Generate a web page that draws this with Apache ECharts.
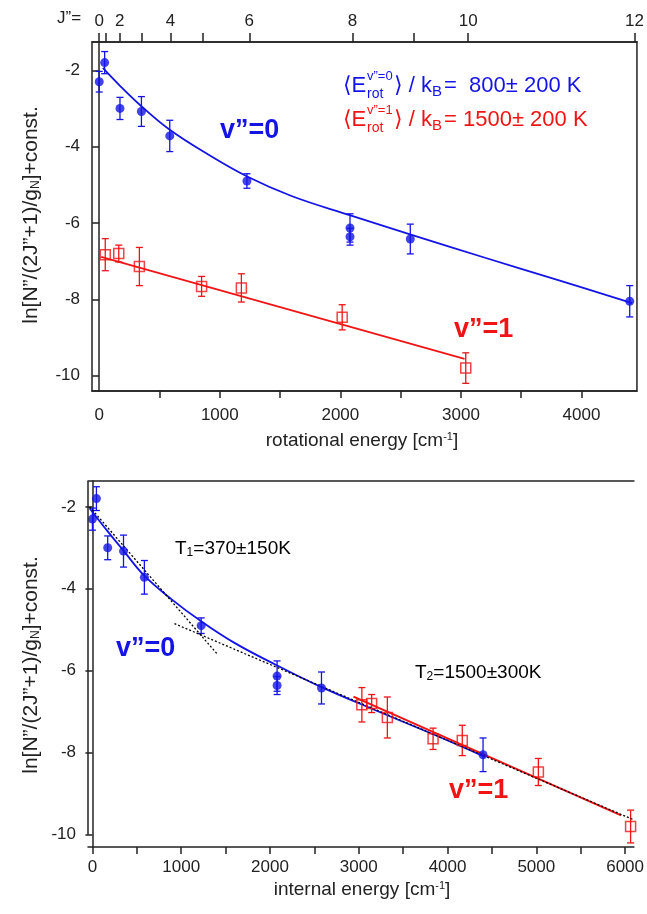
<!DOCTYPE html>
<html><head><meta charset="utf-8">
<script src="https://cdn.jsdelivr.net/npm/echarts@6/dist/echarts.min.js"></script>
<style>html,body{margin:0;padding:0;background:#fff}#c{width:647px;height:914px}</style>
</head><body><div id="c"></div><script>
const BLUE = '#1414e6', RED = '#f01414', INK = '#222';
const FONT = '"Liberation Sans", Arial, "DejaVu Sans", sans-serif';

// ---- data ----
const v0Energy = [0, 45, 172, 350, 585, 1225, 2080, 2080, 2580, 4400];
const v0Value  = [-2.3, -1.8, -3.0, -3.08, -3.72, -4.9, -6.13, -6.36, -6.42, -8.05];
const v0Err    = [0.27, 0.29, 0.29, 0.39, 0.41, 0.19, 0.37, 0.22, 0.39, 0.41];
const v1RotEnergy = [50, 162, 333, 849, 1179, 2015, 3040];
const v1IntEnergy = [3035, 3145, 3322, 3837, 4166, 5023, 6062];
const v1Value  = [-6.83, -6.8, -7.14, -7.66, -7.7, -8.47, -9.8];
const v1Err    = [0.42, 0.22, 0.5, 0.26, 0.37, 0.33, 0.4];

const fitV0TopE = [30, 176, 352, 585, 900, 1231, 1600, 2083, 2578, 3200, 3800, 4420];
const fitV0TopV = [-1.94, -2.42, -2.95, -3.56, -4.2, -4.79, -5.3, -5.8, -6.3, -6.91, -7.49, -8.1];
const fitV1TopE = [16, 3030];
const fitV1TopV = [-6.89, -9.56];
const fitV0BotE = [-30, 172, 350, 584, 900, 1209, 1600, 2080, 2580, 3228, 3837, 4420];
const fitV0BotV = [-2.04, -2.6, -3.07, -3.68, -4.27, -4.77, -5.32, -5.87, -6.4, -7.0, -7.55, -8.1];
const fitV1BotE = [2940, 5955];
const fitV1BotV = [-6.63, -9.53];
const t1LineE = [-31, 1413];
const t1LineV = [-2.0, -5.61];
const t2LineE = [924, 6090];
const t2LineV = [-4.85, -9.63];

const jTickE  = [0, 50, 170, 350, 590, 855, 1245, 2100, 2610, 3060, 4440];
const jLabelE = [0, 170, 590, 1245, 2100, 3060, 4440];
const jLabel  = ['0', '2', '4', '6', '8', '10', '12'];
const rotTicks  = [500, 1000, 1500, 2000, 2500, 3000, 3500, 4000];
const rotLabels = [0, 1000, 2000, 3000, 4000];
const intTicks  = [0, 500, 1000, 1500, 2000, 2500, 3000, 3500, 4000, 4500, 5000, 5500, 6000];
const intLabels = [0, 1000, 2000, 3000, 4000, 5000, 6000];
const yTicks = [-10, -8, -6, -4, -2];

const TOP_X = [-60, 4460], TOP_Y = [-10.4, -1.26];
const BOT_X = [-50, 6100], BOT_Y = [-10.3, -1.37];

const zip = (a, b, c) => a.map((x, i) => c ? [x, b[i], c[i]] : [x, b[i]]);
const plain = (v) => String(v);

function errBar(params, api) {
  const x = api.value(0), y = api.value(1), e = api.value(2);
  const p1 = api.coord([x, y + e]), p2 = api.coord([x, y - e]);
  const w = 3.5;
  const st = { stroke: api.visual('color'), lineWidth: 1.3 };
  return { type: 'group', children: [
    { type: 'line', shape: { x1: p1[0], y1: p1[1], x2: p2[0], y2: p2[1] }, style: st },
    { type: 'line', shape: { x1: p1[0] - w, y1: p1[1], x2: p1[0] + w, y2: p1[1] }, style: st },
    { type: 'line', shape: { x1: p2[0] - w, y1: p2[1], x2: p2[0] + w, y2: p2[1] }, style: st }
  ]};
}

const axLine = { show: true, lineStyle: { color: INK, width: 1.5 } };
const lbl = { color: INK, fontSize: 17, fontFamily: FONT };
const tick = (vals, len) => ({ show: true, customValues: vals, length: len, lineStyle: { color: INK, width: 1.5 } });

const chart = echarts.init(document.getElementById('c'), null, { renderer: 'canvas' });

function txt(x, y, text, opt) {
  return { type: 'text', x: x, y: y, style: Object.assign({
    text: text, fill: INK, font: '18px ' + FONT,
    textAlign: 'left', textVerticalAlign: 'middle', align: 'left', verticalAlign: 'middle'
  }, opt || {}) };
}
function legendLine(x0, y, color, sup, rest) {
  const f = (s) => s + 'px ' + FONT;
  return { type: 'group', x: x0, y: y, children: [
    txt(0, 0, '\u27E8E', { fill: color, font: f(22) }),
    txt(24, -10, sup, { fill: color, font: f(13) }),
    txt(24, 8, 'rot', { fill: color, font: f(14) }),
    txt(51, 0, '\u27E9 / k', { fill: color, font: f(22) }),
    txt(89, 6, 'B', { fill: color, font: f(15) }),
    txt(101, 0, rest, { fill: color, font: f(22) })
  ]};
}
function yTitle(cx, cy) {
  return { type: 'text', x: cx, y: cy, rotation: Math.PI / 2, style: {
    text: '{a|ln[N\u201D/(2J\u201D+1)/g}{s|N}{a|]+const.}',
    rich: { a: { fontSize: 21, fontFamily: FONT, fill: INK, color: INK },
            s: { fontSize: 12, fontFamily: FONT, fill: INK, color: INK, padding: [10, 0, 0, 0] } },
    textAlign: 'center', textVerticalAlign: 'middle', align: 'center', verticalAlign: 'middle' } };
}
function xTitle(cx, cy, word) {
  return { type: 'text', x: cx, y: cy, style: {
    text: '{a|' + word + ' [cm}{s|-1}{a|]}',
    rich: { a: { fontSize: 19, fontFamily: FONT, fill: INK, color: INK },
            s: { fontSize: 11, fontFamily: FONT, fill: INK, color: INK, padding: [0, 0, 9, 0] } },
    textAlign: 'center', textVerticalAlign: 'middle', align: 'center', verticalAlign: 'middle' } };
}

const option = {
  animation: false,
  backgroundColor: '#fff',
  grid: [
    { left: 92, top: 42, width: 545, height: 349, show: true, borderColor: INK, borderWidth: 1.5 },
    { left: 88, top: 481, width: 549, height: 366 }
  ],
  xAxis: [
    { gridIndex: 0, type: 'value', position: 'bottom', min: TOP_X[0], max: TOP_X[1],
      axisLine: axLine, splitLine: { show: false }, axisTick: tick(rotTicks, 7),
      axisLabel: Object.assign({ customValues: rotLabels, margin: 16, formatter: plain }, lbl) },
    { gridIndex: 0, type: 'value', position: 'top', min: TOP_X[0], max: TOP_X[1],
      axisLine: axLine, splitLine: { show: false }, axisTick: tick(jTickE, 9),
      axisLabel: Object.assign({ customValues: jLabelE, margin: 12,
        formatter: (v) => { const i = jLabelE.indexOf(v); return i >= 0 ? jLabel[i] : ''; } }, lbl) },
    { gridIndex: 1, type: 'value', position: 'bottom', min: BOT_X[0], max: BOT_X[1],
      axisLine: axLine, splitLine: { show: false }, axisTick: tick(intTicks, 7),
      axisLabel: Object.assign({ customValues: intLabels, margin: 12, formatter: plain }, lbl) },
    { gridIndex: 1, type: 'value', position: 'top', min: BOT_X[0], max: BOT_X[1],
      axisLine: axLine, splitLine: { show: false }, axisTick: { show: false }, axisLabel: { show: false } }
  ],
  yAxis: [
    { gridIndex: 0, type: 'value', position: 'left', min: TOP_Y[0], max: TOP_Y[1],
      axisLine: axLine, splitLine: { show: false }, axisTick: tick(yTicks, 7),
      axisLabel: Object.assign({ customValues: yTicks, margin: 12, formatter: plain }, lbl) },
    { gridIndex: 1, type: 'value', position: 'left', min: BOT_Y[0], max: BOT_Y[1],
      axisLine: { show: false }, splitLine: { show: false }, axisTick: tick(yTicks, 7),
      axisLabel: Object.assign({ customValues: yTicks, margin: 12, formatter: plain }, lbl) },
    { gridIndex: 1, type: 'value', position: 'right', min: BOT_Y[0], max: BOT_Y[1],
      axisLine: axLine, splitLine: { show: false }, axisTick: { show: false }, axisLabel: { show: false } }
  ],
  series: [
    // top panel
    { type: 'line', xAxisIndex: 0, yAxisIndex: 0, data: zip(fitV0TopE, fitV0TopV), smooth: 0.4,
      showSymbol: false, lineStyle: { color: BLUE, width: 1.8 }, z: 2 },
    { type: 'line', xAxisIndex: 0, yAxisIndex: 0, data: zip(fitV1TopE, fitV1TopV),
      showSymbol: false, lineStyle: { color: RED, width: 1.8 }, z: 2 },
    { type: 'custom', xAxisIndex: 0, yAxisIndex: 0, renderItem: errBar, itemStyle: { color: BLUE },
      data: zip(v0Energy, v0Value, v0Err), z: 3 },
    { type: 'custom', xAxisIndex: 0, yAxisIndex: 0, renderItem: errBar, itemStyle: { color: RED },
      data: zip(v1RotEnergy, v1Value, v1Err), z: 3 },
    { type: 'scatter', xAxisIndex: 0, yAxisIndex: 0, data: zip(v0Energy, v0Value), symbol: 'circle',
      symbolSize: 9, itemStyle: { color: BLUE }, z: 4 },
    { type: 'scatter', xAxisIndex: 0, yAxisIndex: 0, data: zip(v1RotEnergy, v1Value), symbol: 'rect',
      symbolSize: 10, itemStyle: { color: 'rgba(255,255,255,0)', borderColor: RED, borderWidth: 1.5 }, z: 4 },
    // bottom panel
    { type: 'line', xAxisIndex: 2, yAxisIndex: 1, data: zip(fitV0BotE, fitV0BotV), smooth: 0.4,
      showSymbol: false, lineStyle: { color: BLUE, width: 1.8 }, z: 2,
      markLine: { silent: true, symbol: 'none', label: { show: false },
        lineStyle: { color: INK, width: 1.5, type: 'solid' },
        data: [[{ coord: [BOT_X[0], -10] }, { coord: [BOT_X[0], BOT_Y[1]] }]] } },
    { type: 'line', xAxisIndex: 2, yAxisIndex: 1, data: zip(fitV1BotE, fitV1BotV),
      showSymbol: false, lineStyle: { color: RED, width: 2 }, z: 2 },
    { type: 'line', xAxisIndex: 2, yAxisIndex: 1, data: zip(t1LineE, t1LineV),
      showSymbol: false, lineStyle: { color: '#000', width: 1.3, type: [2, 2] }, z: 3 },
    { type: 'line', xAxisIndex: 2, yAxisIndex: 1, data: zip(t2LineE, t2LineV),
      showSymbol: false, lineStyle: { color: '#000', width: 1.3, type: [2, 2] }, z: 3 },
    { type: 'custom', xAxisIndex: 2, yAxisIndex: 1, renderItem: errBar, itemStyle: { color: BLUE },
      data: zip(v0Energy, v0Value, v0Err), z: 3 },
    { type: 'custom', xAxisIndex: 2, yAxisIndex: 1, renderItem: errBar, itemStyle: { color: RED },
      data: zip(v1IntEnergy, v1Value, v1Err), z: 3 },
    { type: 'scatter', xAxisIndex: 2, yAxisIndex: 1, data: zip(v0Energy, v0Value), symbol: 'circle',
      symbolSize: 9, itemStyle: { color: BLUE }, z: 4 },
    { type: 'scatter', xAxisIndex: 2, yAxisIndex: 1, data: zip(v1IntEnergy, v1Value), symbol: 'rect',
      symbolSize: 10, itemStyle: { color: 'rgba(255,255,255,0)', borderColor: RED, borderWidth: 1.5 }, z: 4 }
  ],
  graphic: [
    txt(57, 18, 'J\u201D=', { font: '17px ' + FONT }),
    legendLine(343, 86, BLUE, 'v\u201D=0', '=  800\u00B1 200 K'),
    legendLine(343, 120, RED, 'v\u201D=1', '= 1500\u00B1 200 K'),
    txt(220, 131, 'v\u201D=0', { fill: BLUE, font: 'bold 27px ' + FONT }),
    txt(454, 330, 'v\u201D=1', { fill: RED, font: 'bold 27px ' + FONT }),
    txt(116, 649, 'v\u201D=0', { fill: BLUE, font: 'bold 27px ' + FONT }),
    txt(449, 791, 'v\u201D=1', { fill: RED, font: 'bold 27px ' + FONT }),
    { type: 'text', x: 175, y: 549, style: { text: '{a|T}{s|1}{a|=370\u00B1150K}',
      rich: { a: { fontSize: 19, fontFamily: FONT, color: INK }, s: { fontSize: 12, fontFamily: FONT, color: INK, padding: [8, 0, 0, 0] } },
      textVerticalAlign: 'middle', verticalAlign: 'middle' } },
    { type: 'text', x: 415, y: 673, style: { text: '{a|T}{s|2}{a|=1500\u00B1300K}',
      rich: { a: { fontSize: 19, fontFamily: FONT, color: INK }, s: { fontSize: 12, fontFamily: FONT, color: INK, padding: [8, 0, 0, 0] } },
      textVerticalAlign: 'middle', verticalAlign: 'middle' } },
    yTitle(31, 215),
    yTitle(31, 665),
    xTitle(362, 441, 'rotational energy'),
    xTitle(362, 890, 'internal energy')
  ]
};
chart.setOption(option);
</script></body></html>
